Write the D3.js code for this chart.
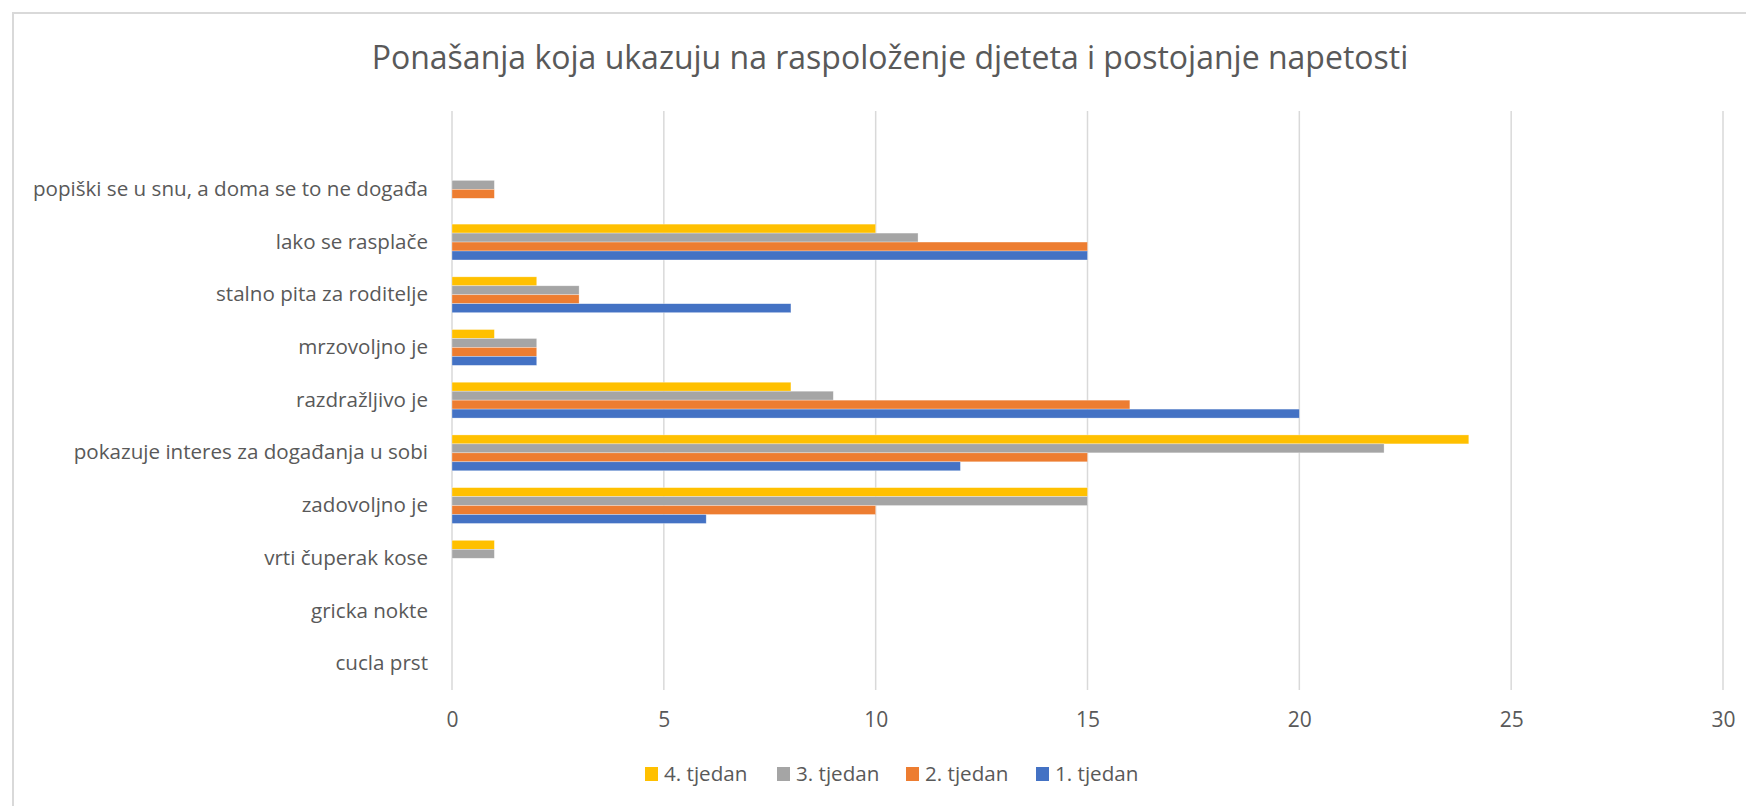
<!DOCTYPE html>
<html>
<head>
<meta charset="utf-8">
<script src="https://cdn.jsdelivr.net/npm/d3@7"></script>
<style>
  body { margin: 0; background: #fff; }
  svg text { font-family: "Open Sans", "Noto Sans", sans-serif; fill: #595959; }
</style>
</head>
<body>
<div id="chart"></div>
<script>
const width = 1746, height = 806;

// categories, top to bottom
const categories = [
  "popiški se u snu, a doma se to ne događa",
  "lako se rasplače",
  "stalno pita za roditelje",
  "mrzovoljno je",
  "razdražljivo je",
  "pokazuje interes za događanja u sobi",
  "zadovoljno je",
  "vrti čuperak kose",
  "gricka nokte",
  "cucla prst"
];

const seriesNames = ["4. tjedan", "3. tjedan", "2. tjedan", "1. tjedan"];
const seriesColors = ["#FFC000", "#A5A5A5", "#ED7D31", "#4472C4"];

const week1 = [0, 15, 8, 2, 20, 12, 6, 0, 0, 0];
const week2 = [1, 15, 3, 2, 16, 15, 10, 0, 0, 0];
const week3 = [1, 11, 3, 2, 9, 22, 15, 1, 0, 0];
const week4 = [0, 10, 2, 1, 8, 24, 15, 1, 0, 0];

const xTicks = [0, 5, 10, 15, 20, 25, 30];

const seriesValues = { "4. tjedan": week4, "3. tjedan": week3, "2. tjedan": week2, "1. tjedan": week1 };

const svg = d3.select("#chart").append("svg")
    .attr("width", width)
    .attr("height", height);

svg.append("rect").attr("width", width).attr("height", height).attr("fill", "#fff");

// chart border (only top and left visible)
svg.append("path")
    .attr("d", "M13," + height + "V13H" + width)
    .attr("fill", "none")
    .attr("stroke", "#D9D9D9")
    .attr("stroke-width", 2);

const plotTop = 111, plotBottom = 690;

var x = d3.scaleLinear()
    .domain([0, 30])
    .range([452, 1723]);

var y = d3.scaleBand()
    .domain(categories)
    .range([163, plotBottom]);

var inner = d3.scaleBand()
    .domain(seriesNames)
    .range([y.bandwidth() * 0.16, y.bandwidth() * 0.84]);

var color = d3.scaleOrdinal().domain(seriesNames).range(seriesColors);

// gridlines
svg.append("g").selectAll("line")
    .data(xTicks)
    .enter().append("line")
    .attr("x1", d => x(d)).attr("x2", d => x(d))
    .attr("y1", plotTop).attr("y2", plotBottom)
    .attr("stroke", "#D9D9D9")
    .attr("stroke-width", 1.5);

// bars
var groups = svg.append("g").selectAll("g")
    .data(categories)
    .enter().append("g")
    .attr("transform", d => "translate(0," + y(d) + ")");

groups.selectAll("rect")
    .data((c, i) => seriesNames.map(s => ({ s: s, v: seriesValues[s][i] })))
    .enter().append("rect")
    .filter(d => d.v > 0)
    .attr("x", x(0))
    .attr("y", d => inner(d.s))
    .attr("width", d => x(d.v) - x(0))
    .attr("height", inner.bandwidth())
    .attr("fill", d => color(d.s))
    .attr("stroke", "#fff")
    .attr("stroke-opacity", 0.5)
    .attr("stroke-width", 0.6);

// x axis
var xAxis = svg.append("g")
    .attr("transform", "translate(0," + plotBottom + ")")
    .call(d3.axisBottom(x).tickValues(xTicks).tickSize(0).tickPadding(22));
xAxis.select(".domain").remove();
xAxis.selectAll("text").style("font-size", "21px").attr("fill", "#595959");

// y axis
var yAxis = svg.append("g")
    .attr("transform", "translate(" + x(0) + ",0)")
    .call(d3.axisLeft(y).tickSize(0).tickPadding(24));
yAxis.select(".domain").remove();
yAxis.selectAll("text").style("font-size", "20.6px").attr("fill", "#595959");

// title
svg.append("text")
    .attr("x", 890)
    .attr("y", 69)
    .attr("text-anchor", "middle")
    .style("font-size", "32px")
    .text("Ponašanja koja ukazuju na raspoloženje djeteta i postojanje napetosti");

// legend
var legendX = [645, 777, 906, 1036];
var legend = svg.append("g").selectAll("g")
    .data(seriesNames)
    .enter().append("g")
    .attr("transform", (d, i) => "translate(" + legendX[i] + ",767)");

legend.append("rect")
    .attr("width", 13).attr("height", 14)
    .attr("fill", d => color(d));

legend.append("text")
    .attr("x", 19)
    .attr("y", 7)
    .attr("dy", "0.35em")
    .style("font-size", "20.6px")
    .text(d => d);
</script>
</body>
</html>
